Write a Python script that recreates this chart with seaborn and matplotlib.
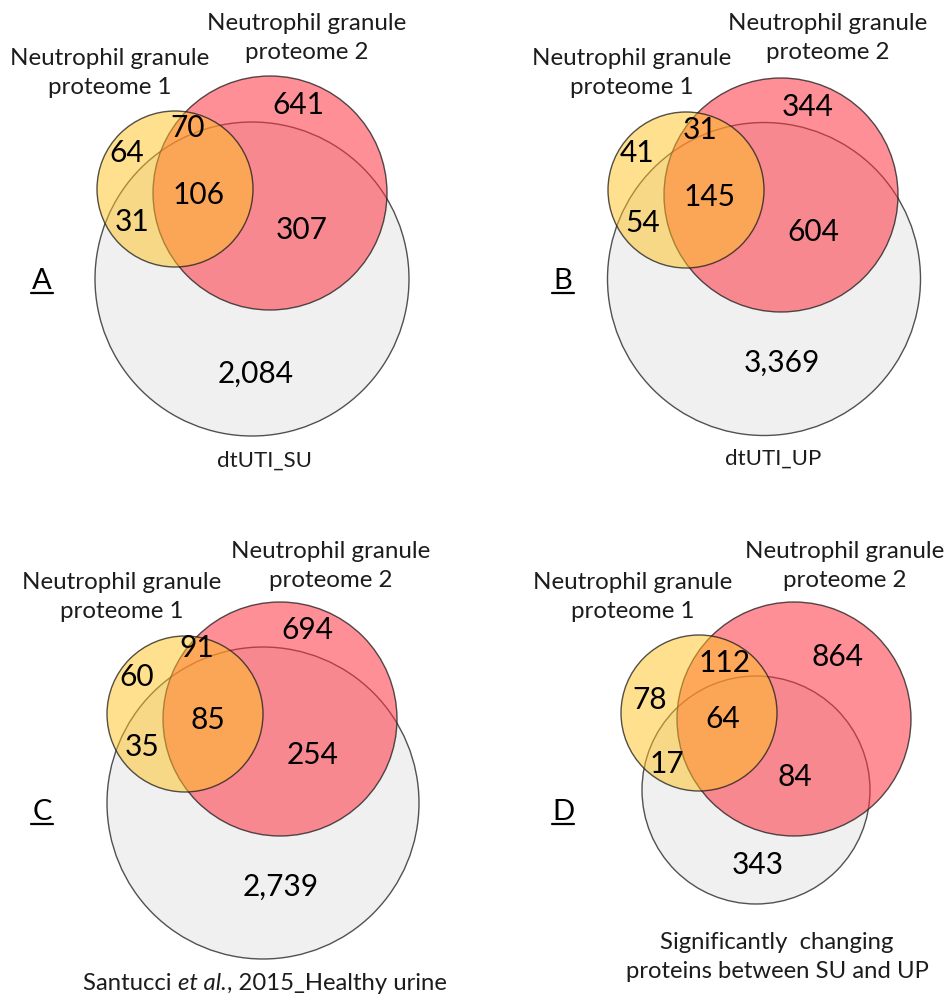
import matplotlib
matplotlib.use("Agg")
import matplotlib.pyplot as plt
from matplotlib.patches import Circle
from matplotlib.offsetbox import TextArea, HPacker, AnnotationBbox
import seaborn as sns

# ---------------- data ----------------
panels = ["A", "B", "C", "D"]
only_p1 = [64, 41, 60, 78]
p1_p2 = [70, 31, 91, 112]
only_p2 = [641, 344, 694, 864]
all_three = [106, 145, 85, 64]
p1_ref = [31, 54, 35, 17]
p2_ref = [307, 604, 254, 84]
only_ref = [2084, 3369, 2739, 343]
set1_label = "Neutrophil granule\nproteome 1"
set2_label = "Neutrophil granule\nproteome 2"
# each reference label as (text, style) pieces
ref_labels = [
    [("dtUTI_SU", "normal")],
    [("dtUTI_UP", "normal")],
    [("Santucci ", "normal"), ("et al.", "italic"), (", 2015_Healthy urine", "normal")],
    [("Significantly  changing\nproteins between SU and UP", "normal")],
]

# ---------------- layout (pixel coords, y downward) ----------------
yellow_c = [(175, 190, 78), (686, 191, 78), (185, 715, 78), (699, 714, 78)]
red_c = [(270, 194, 117), (781, 196, 117), (280, 720, 117), (794, 720, 117)]
gray_c = [(252, 280, 157), (764, 280, 156.5), (263, 804, 156), (756, 791, 114)]

pos_only_p1 = [(127, 153), (637, 153), (137, 677), (650, 700)]
pos_p1_p2 = [(188, 128), (700, 130), (197, 648), (725, 663)]
pos_only_p2 = [(298, 105), (808, 107), (307, 630), (837, 657)]
pos_all = [(199, 195), (710, 197), (208, 720), (723, 719)]
pos_p1_ref = [(132, 222), (643, 223), (142, 747), (667, 764)]
pos_p2_ref = [(302, 230), (813, 232), (313, 755), (795, 777)]
pos_only_ref = [(256, 374), (782, 363), (281, 887), (758, 865)]
pos_set1 = [(110, 73), (632, 73), (122, 597), (633, 597)]
pos_set2 = [(307, 38), (828, 38), (331, 566), (845, 566)]
pos_ref = [(264, 461), (773, 459), (265, 983), (777, 957)]
ref_fs = [16, 16, 17.2, 17.2]
pos_letter = [(42, 281), (563, 281), (42, 812), (563, 812)]

sns.set_theme(style="white")
plt.rcParams["font.family"] = ["Lato", "DejaVu Sans"]

fig = plt.figure(figsize=(9.46, 9.95), dpi=100)
ax = fig.add_axes([0, 0, 1, 1])
ax.set_xlim(0, 946)
ax.set_ylim(995, 0)
ax.axis("off")

gray_fill = (0.94, 0.94, 0.94)
red_fill = (1.0, 0.2, 0.25, 0.55)
yel_fill = (1.0, 0.76, 0.12, 0.5)
edge = (0.1, 0.1, 0.1, 0.75)
txt_col = "#1c1c1c"

NUM_FS = 21.5
LAB_FS = 17.4
LSP = 1.5

for i in range(len(panels)):
    gx, gy, gr = gray_c[i]
    rx, ry, rr = red_c[i]
    yx, yy, yr = yellow_c[i]
    ax.add_patch(Circle((gx, gy), gr, facecolor=gray_fill, edgecolor=edge, lw=1.0, zorder=1))
    ax.add_patch(Circle((rx, ry), rr, facecolor=red_fill, edgecolor=edge, lw=1.0, zorder=2))
    ax.add_patch(Circle((yx, yy), yr, facecolor=yel_fill, edgecolor=edge, lw=1.0, zorder=3))

    vals = [only_p1[i], p1_p2[i], only_p2[i], all_three[i], p1_ref[i], p2_ref[i], only_ref[i]]
    poss = [pos_only_p1[i], pos_p1_p2[i], pos_only_p2[i], pos_all[i], pos_p1_ref[i], pos_p2_ref[i], pos_only_ref[i]]
    for v, (px, py) in zip(vals, poss):
        ax.text(px, py, f"{v:,}", ha="center", va="center", fontsize=NUM_FS, color="black", zorder=5)

    ax.text(*pos_set1[i], set1_label, ha="center", va="center", fontsize=LAB_FS,
            color=txt_col, linespacing=LSP, zorder=5)
    ax.text(*pos_set2[i], set2_label, ha="center", va="center", fontsize=LAB_FS,
            color=txt_col, linespacing=LSP, zorder=5)

    pieces = ref_labels[i]
    if len(pieces) == 1:
        ax.text(*pos_ref[i], pieces[0][0], ha="center", va="center", fontsize=ref_fs[i],
                color=txt_col, linespacing=LSP, zorder=5)
    else:
        areas = [TextArea(t, textprops=dict(fontsize=ref_fs[i], color=txt_col, style=s))
                 for t, s in pieces]
        box = HPacker(children=areas, pad=0, sep=0, align="baseline")
        ab = AnnotationBbox(box, pos_ref[i], xycoords="data", frameon=False,
                            box_alignment=(0.5, 0.5), pad=0, zorder=5)
        ax.add_artist(ab)

    lx, ly = pos_letter[i]
    ax.text(lx, ly, panels[i], ha="center", va="center", fontsize=21, color="black", zorder=5)
    ax.plot([lx - 11, lx + 11], [ly + 13, ly + 13], color="black", lw=1.6, zorder=5)

fig.savefig("out.png", dpi=100)
